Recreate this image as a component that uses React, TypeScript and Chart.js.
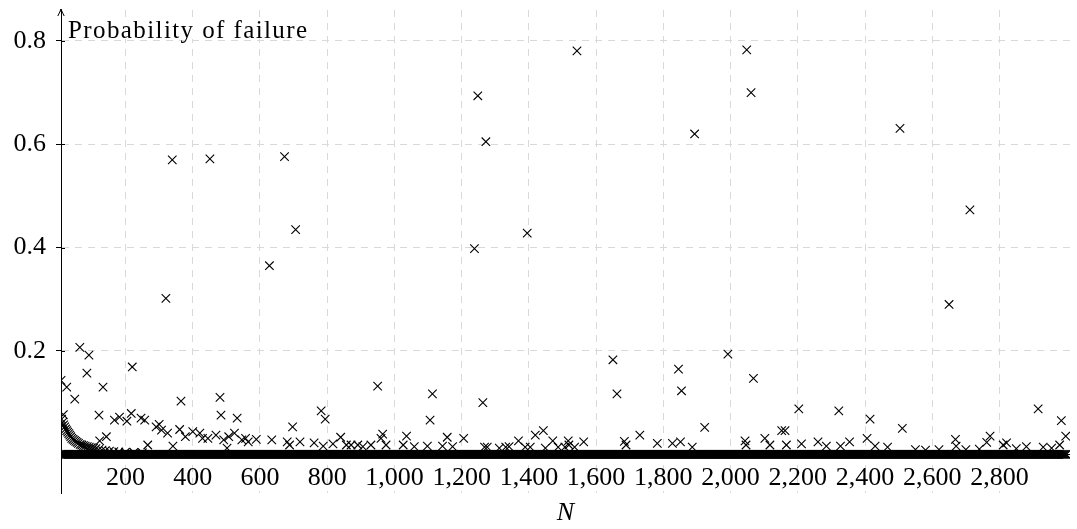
import React, { useEffect, useRef } from 'react';
import { Chart, registerables } from 'chart.js';

Chart.register(...registerables);

// ---- tick labels ----
const xTickValues = [200, 400, 600, 800, 1000, 1200, 1400, 1600, 1800, 2000, 2200, 2400, 2600, 2800];
const yTickValues = [0.2, 0.4, 0.6, 0.8];
const yAxisLabel = 'Probability of failure';
const xAxisLabel = 'N';

// ---- large failure probabilities ----
const peakN = [320, 339, 451, 628, 673, 706, 1238, 1248, 1272, 1395, 1543, 1893, 2048, 2061, 2504, 2650, 2712];
const peakP = [0.302, 0.570, 0.572, 0.365, 0.576, 0.435, 0.398, 0.694, 0.605, 0.428, 0.781, 0.620, 0.783, 0.700, 0.631, 0.290, 0.473];

// ---- scattered small failure probabilities ----
const scatterN = [
  8, 25, 15, 49, 64, 91, 85, 133, 121, 123, 143, 220, 167, 182, 204, 217, 246, 257, 266, 291,
  300, 307, 325, 341, 361, 365, 378, 400, 421, 429, 445, 469, 481, 484, 492, 502, 507, 524, 532, 546,
  557, 565, 589, 635, 681, 688, 697, 719, 761, 782, 794, 788, 817, 840, 857, 871, 891, 906, 930, 950,
  960, 965, 975, 1026, 1036, 1059, 1098, 1106, 1113, 1143, 1157, 1173, 1206, 1263, 1268, 1276, 1312, 1331, 1341, 1369,
  1389, 1404, 1419, 1443, 1449, 1471, 1487, 1507, 1517, 1519, 1536, 1563, 1650, 1662, 1684, 1689, 1730, 1782, 1827, 1845,
  1851, 1854, 1886, 1923, 1992, 2043, 2046, 2068, 2102, 2117, 2152, 2162, 2166, 2203, 2211, 2260, 2285, 2322, 2327, 2354,
  2406, 2415, 2430, 2467, 2511, 2550, 2580, 2620, 2669, 2671, 2700, 2740, 2762, 2772, 2811, 2821, 2850, 2880, 2915, 2930,
  2955, 2979, 2984, 2997,
];
const scatterP = [
  0.143, 0.130, 0.077, 0.107, 0.207, 0.192, 0.157, 0.130, 0.076, 0.026, 0.034, 0.169, 0.066, 0.072, 0.064, 0.079, 0.070, 0.066, 0.018, 0.053,
  0.058, 0.047, 0.041, 0.016, 0.048, 0.103, 0.034, 0.044, 0.041, 0.031, 0.031, 0.037, 0.110, 0.076, 0.028, 0.012, 0.034, 0.041, 0.070, 0.028,
  0.031, 0.024, 0.029, 0.028, 0.024, 0.018, 0.053, 0.024, 0.022, 0.084, 0.068, 0.016, 0.020, 0.033, 0.018, 0.018, 0.018, 0.015, 0.018, 0.132,
  0.031, 0.039, 0.018, 0.018, 0.035, 0.015, 0.016, 0.066, 0.117, 0.016, 0.033, 0.015, 0.031, 0.100, 0.014, 0.014, 0.012, 0.014, 0.015, 0.026,
  0.014, 0.014, 0.037, 0.046, 0.012, 0.026, 0.014, 0.014, 0.026, 0.018, 0.014, 0.024, 0.183, 0.117, 0.025, 0.018, 0.037, 0.021, 0.021, 0.165,
  0.024, 0.123, 0.014, 0.052, 0.194, 0.026, 0.018, 0.147, 0.031, 0.018, 0.046, 0.046, 0.018, 0.088, 0.020, 0.024, 0.016, 0.084, 0.016, 0.024,
  0.031, 0.068, 0.016, 0.014, 0.050, 0.009, 0.008, 0.009, 0.029, 0.016, 0.009, 0.010, 0.023, 0.035, 0.018, 0.022, 0.011, 0.015, 0.088, 0.014,
  0.012, 0.018, 0.065, 0.035,
];

// ---- small-N decay at the start ----
const decayN = [10, 13, 16, 19, 22, 25, 28, 31, 34, 37, 40, 44, 48, 52, 56, 60, 65, 70, 75, 80, 86, 92, 98, 105, 112, 120, 130, 140, 152, 165, 180, 200, 225, 250];
const decayP = [0.068, 0.062, 0.057, 0.053, 0.049, 0.046, 0.043, 0.040, 0.037, 0.034, 0.031, 0.029, 0.027, 0.025, 0.023, 0.021, 0.019, 0.018, 0.017, 0.016, 0.015, 0.014, 0.013, 0.012, 0.011, 0.009, 0.008, 0.007, 0.006, 0.005, 0.0045, 0.004, 0.0035, 0.003];

// ---- every other N has (numerically) zero failure probability ----
const zeroFromN = 8;
const zeroToN = 3000;
const zeroStepN = 3;
const zeroP = 0;

const FONT = "'Liberation Serif', 'Times New Roman', serif";

const axisDecor = {
  id: 'axisDecor',
  afterDraw(chart: any) {
    const { ctx, chartArea } = chart;
    const x = chartArea.left;
    const top = chartArea.top;
    ctx.save();
    // arrow head on the y axis
    ctx.strokeStyle = '#000';
    ctx.lineWidth = 1;
    ctx.beginPath();
    ctx.moveTo(x, top + 2);
    ctx.lineTo(x, top - 1);
    ctx.stroke();
    ctx.beginPath();
    ctx.moveTo(x - 3.2, top + 6);
    ctx.quadraticCurveTo(x - 0.8, top + 1.5, x, top - 1);
    ctx.quadraticCurveTo(x + 0.8, top + 1.5, x + 3.2, top + 6);
    ctx.stroke();
    // small tick stubs crossing to the right of the y axis
    const ys = chart.scales.y;
    ctx.beginPath();
    for (const v of yTickValues) {
      const py = Math.round(ys.getPixelForValue(v)) + 0.5;
      ctx.moveTo(x, py);
      ctx.lineTo(x + 4, py);
    }
    ctx.stroke();
    // axis label at the top of the y axis
    ctx.font = `25px ${FONT}`;
    (ctx as any).letterSpacing = '1.4px';
    const w = ctx.measureText(yAxisLabel).width;
    ctx.fillStyle = '#fff';
    ctx.fillRect(x + 5, top + 7, w + 4, 22);
    ctx.fillStyle = '#000';
    ctx.textBaseline = 'alphabetic';
    ctx.textAlign = 'left';
    ctx.fillText(yAxisLabel, x + 7, top + 28);
    ctx.restore();
  },
};

export default function App() {
  const ref = useRef<HTMLCanvasElement | null>(null);

  useEffect(() => {
    document.body.style.margin = '0';
    const canvas = ref.current;
    if (!canvas) return;

    const zeroPoints: { x: number; y: number }[] = [];
    for (let n = zeroFromN; n <= zeroToN; n += zeroStepN) zeroPoints.push({ x: n, y: zeroP });

    const style = {
      showLine: false,
      pointStyle: 'crossRot' as const,
      pointRadius: 6,
      pointHoverRadius: 6,
      pointBorderWidth: 1.1,
      borderColor: '#000',
      backgroundColor: '#000',
    };

    const chart = new Chart(canvas, {
      type: 'scatter',
      data: {
        datasets: [
          { label: 'zero', data: zeroPoints, ...style },
          { label: 'decay', data: decayN.map((n, i) => ({ x: n, y: decayP[i] })), ...style },
          { label: 'scatter', data: scatterN.map((n, i) => ({ x: n, y: scatterP[i] })), ...style },
          { label: 'peaks', data: peakN.map((n, i) => ({ x: n, y: peakP[i] })), ...style },
        ],
      },
      options: {
        responsive: false,
        animation: false,
        events: [],
        layout: { padding: { top: 10, bottom: 36, left: 0, right: 0 } },
        plugins: { legend: { display: false }, tooltip: { enabled: false } },
        scales: {
          x: {
            type: 'linear',
            position: { y: 0 } as any,
            min: 8,
            max: 3009.5,
            afterBuildTicks: (axis: any) => {
              axis.ticks = xTickValues.map((v) => ({ value: v }));
            },
            ticks: {
              color: '#000',
              font: { family: FONT, size: 26 },
              padding: 8,
              maxRotation: 0,
              autoSkip: false,
              callback: (v: any) => Number(v).toLocaleString('en-US'),
            },
            grid: { color: '#d9d9d9', lineWidth: 1, drawTicks: false },
            border: { display: true, color: '#000', width: 1, dash: [7, 6] },
            title: {
              display: true,
              text: xAxisLabel,
              color: '#000',
              font: { family: FONT, size: 26, style: 'italic' },
              padding: { top: -4, bottom: 0 },
            },
          },
          y: {
            type: 'linear',
            position: 'left',
            min: -0.0749,
            max: 0.860,
            afterBuildTicks: (axis: any) => {
              axis.ticks = yTickValues.map((v) => ({ value: v }));
            },
            afterFit: (axis: any) => {
              axis.width = 61;
              axis.paddingTop = 0;
              axis.paddingBottom = 0;
            },
            ticks: {
              color: '#000',
              font: { family: FONT, size: 26 },
              padding: 10,
              callback: (v: any) => String(v),
            },
            grid: {
              color: '#d9d9d9',
              lineWidth: 1,
              drawTicks: true,
              tickLength: 5,
              tickColor: '#000',
              tickBorderDash: [],
            },
            border: { display: true, color: '#000', width: 1, dash: [7, 6] },
          },
        },
      },
      plugins: [axisDecor],
    });

    return () => chart.destroy();
  }, []);

  return (
    <canvas
      ref={ref}
      width={1077}
      height={529}
      style={{ display: 'block', width: 1077, height: 529 }}
    />
  );
}
